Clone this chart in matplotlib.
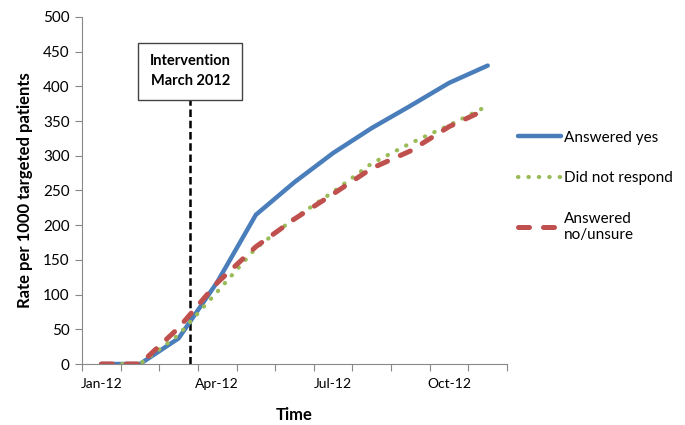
import matplotlib
matplotlib.use('Agg')
import matplotlib.pyplot as plt

plt.rcParams['font.family'] = ['Lato', 'DejaVu Sans']

months = ['Jan-12', 'Feb-12', 'Mar-12', 'Apr-12', 'May-12', 'Jun-12',
          'Jul-12', 'Aug-12', 'Sep-12', 'Oct-12', 'Nov-12']
answered_yes = [0, 0, 37, 118, 215, 262, 304, 340, 372, 405, 430]
did_not_respond = [0, 0, 42, 104, 167, 210, 248, 289, 318, 344, 372]
answered_no = [0, 0, 52, 117, 169, 209, 245, 282, 307, 342, 368]
tick_labels = {0: 'Jan-12', 3: 'Apr-12', 6: 'Jul-12', 9: 'Oct-12'}
intervention_pos = 2.3

x = list(range(len(months)))

fig = plt.figure(figsize=(6.85, 4.25), dpi=100)
ax = fig.add_axes([82 / 685, 1 - 364 / 425, 425 / 685, 347 / 425])

ax.plot(x, answered_yes, color='#4a7ebb', lw=3.2, solid_capstyle='round',
        label='Answered yes')
ax.plot(x, did_not_respond, color='#9bbb59', lw=3, ls=(0, (0.1, 2.4)),
        dash_capstyle='round', label='Did not respond')
ax.plot(x, answered_no, color='#c0504d', lw=3.6, ls=(0, (2.2, 2.8)),
        dash_capstyle='round', label='Answered\nno/unsure')

# intervention marker
ax.plot([intervention_pos, intervention_pos], [0, 380], color='black',
        lw=1.8, ls=(0, (3, 1.5)), zorder=1)
ax.text(intervention_pos, 422, 'Intervention\nMarch 2012', ha='center',
        va='center', fontsize=10.5, fontweight='bold', linespacing=1.5,
        bbox=dict(boxstyle='square,pad=0.8', fc='white', ec='#444444', lw=1))

ax.set_xlim(-0.5, len(months) - 0.5)
ax.set_ylim(0, 500)
ax.set_yticks(range(0, 501, 50))
ax.set_xticks([i - 0.5 for i in range(len(months) + 1)])
ax.set_xticklabels([])
ax.set_xticks(list(tick_labels.keys()), minor=True)
ax.set_xticklabels(list(tick_labels.values()), minor=True)
ax.tick_params(axis='x', which='minor', length=0, pad=10, labelsize=10)
ax.tick_params(axis='x', which='major', length=5, color='#888888')
ax.tick_params(axis='y', length=5, color='#888888', labelsize=11, pad=4)

for s in ['top', 'right']:
    ax.spines[s].set_visible(False)
for s in ['left', 'bottom']:
    ax.spines[s].set_color('#888888')

ax.set_ylabel('Rate per 1000 targeted patients', fontsize=12,
              fontweight='bold', labelpad=7)
ax.set_xlabel('Time', fontsize=12, fontweight='bold', labelpad=12)

ax.legend(loc='upper left', bbox_to_anchor=(1.012, 0.69), frameon=False,
          fontsize=11, handlelength=2.8, handletextpad=0.2,
          labelspacing=1.75, borderaxespad=0)

fig.savefig('out.png', dpi=100)
